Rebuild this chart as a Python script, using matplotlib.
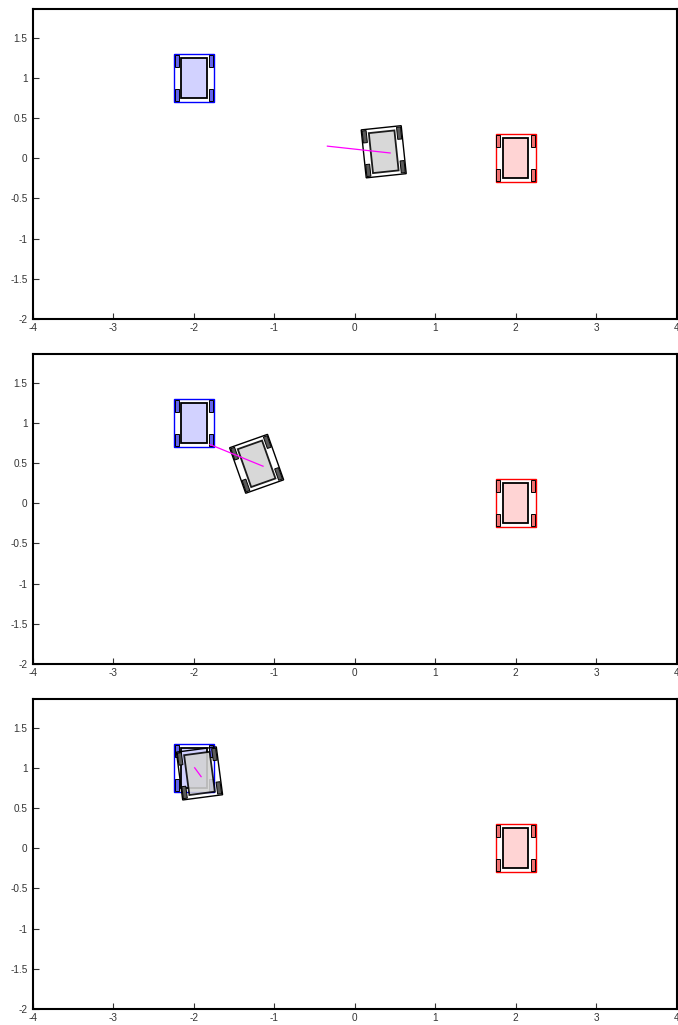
import numpy as np
import matplotlib
matplotlib.use("Agg")
import matplotlib.pyplot as plt
from matplotlib.patches import Rectangle
from matplotlib.transforms import Affine2D

plt.rcParams['font.family'] = ['Liberation Sans', 'DejaVu Sans']

# ---- data ----
x_ticks = [-4, -3, -2, -1, 0, 1, 2, 3, 4]
y_ticks = [-2, -1.5, -1, -0.5, 0, 0.5, 1, 1.5]
x_tick_labels = ['-4', '-3', '-2', '-1', '0', '1', '2', '3', '4']
y_tick_labels = ['-2', '-1.5', '-1', '-0.5', '0', '0.5', '1', '1.5']

# start (blue) and goal (red) poses: x, y, heading (deg)
start_pose = (-2.0, 1.0, 0.0)
goal_pose = (2.0, 0.0, 0.0)

# robot (gray) poses per panel
robot_x = [0.36, -1.22, -1.93]
robot_y = [0.08, 0.49, 0.93]
robot_theta = [6.0, 19.5, 7.5]

# magenta segment per panel
seg_x0 = [-0.34, -1.80, -1.99]
seg_y0 = [0.15, 0.73, 1.00]
seg_x1 = [0.44, -1.14, -1.91]
seg_y1 = [0.065, 0.46, 0.89]

# ---- figure ----
W, H = 678, 1025
fig = plt.figure(figsize=(W / 100, H / 100), dpi=100)

panel_tops = [9, 354, 699]
panel_h = 310
left_px, right_px = 33, 676.5


def draw_car(ax, pose, frame_col, body_col, wheel_col, body_alpha=1.0, z=2):
    x, y, th = pose
    tr = Affine2D().rotate_deg(th).translate(x, y) + ax.transData
    # outer frame
    ax.add_patch(Rectangle((-0.25, -0.30), 0.5, 0.6, fill=False,
                           edgecolor=frame_col, linewidth=1.0,
                           transform=tr, zorder=z))
    # body
    ax.add_patch(Rectangle((-0.16, -0.25), 0.32, 0.5, facecolor=body_col,
                           edgecolor=(0, 0, 0, 0.7), linewidth=1.3,
                           alpha=body_alpha, transform=tr, zorder=z + 0.1))
    # wheels
    for sx in (-1, 1):
        for sy in (-1, 1):
            ax.add_patch(Rectangle((sx * 0.215 - 0.025, sy * 0.21 - 0.075),
                                   0.05, 0.15, facecolor=wheel_col,
                                   edgecolor='black', linewidth=0.7,
                                   transform=tr, zorder=z + 0.2))


for i in range(3):
    top = panel_tops[i]
    bottom_frac = 1 - (top + panel_h) / H
    ax = fig.add_axes([left_px / W, bottom_frac, (right_px - left_px) / W, panel_h / H])
    ax.set_xlim(-4, 4)
    ax.set_ylim(-2, -2 + panel_h / 80.4)
    ax.set_xticks(x_ticks)
    ax.set_xticklabels(x_tick_labels)
    ax.set_yticks(y_ticks)
    ax.set_yticklabels(y_tick_labels)
    ax.tick_params(direction='in', length=4, width=0.8, labelsize=7.2,
                   labelcolor='#333333', color='#333333')
    ax.tick_params(axis='y', pad=4)
    ax.tick_params(axis='x', pad=3)
    for s in ax.spines.values():
        s.set_linewidth(1.5)

    draw_car(ax, start_pose, 'blue', '#d2d2ff', '#6464ea', z=2)
    draw_car(ax, goal_pose, 'red', '#ffd4d4', '#f07070', z=2)
    draw_car(ax, (robot_x[i], robot_y[i], robot_theta[i]), 'black',
             '#d3d3d3', '#5a5a5a', body_alpha=0.88, z=3)
    ax.plot([seg_x0[i], seg_x1[i]], [seg_y0[i], seg_y1[i]],
            color='magenta', linewidth=0.9, zorder=5)

fig.savefig('out.png', dpi=100)
